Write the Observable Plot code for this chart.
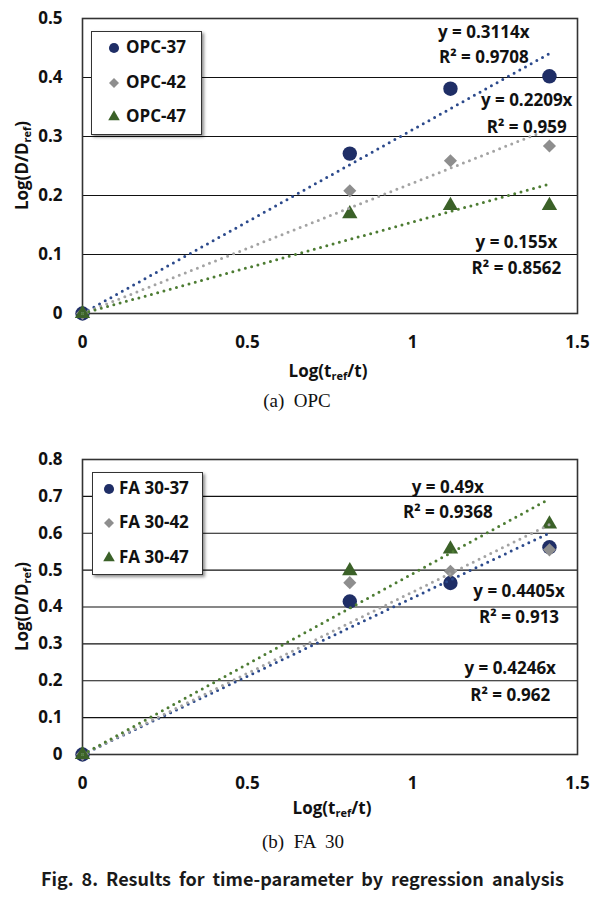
<!DOCTYPE html>
<html><head><meta charset="utf-8">
<script src="https://cdn.jsdelivr.net/npm/d3@7"></script>
<script src="https://cdn.jsdelivr.net/npm/@observablehq/plot@0.6"></script>
<style>
body{margin:0;background:#fff;}
#wrap{position:relative;width:609px;height:897px;font-family:"Open Sans",sans-serif;color:#111;overflow:hidden;}
.abs{position:absolute;}
.title{font-weight:bold;font-size:17px;white-space:nowrap;text-align:center;}
.title sub{font-size:11px;vertical-align:-3px;line-height:0;}
.legend{background:#fff;border:1px solid #333;box-shadow:2px 2px 3px rgba(0,0,0,0.45);}
.legrow{position:absolute;font-weight:bold;font-size:17px;white-space:nowrap;line-height:20px;}
.cap{font-family:"Liberation Serif","Times New Roman",serif;font-size:19px;white-space:pre;text-align:center;}
.fig{font-family:"Noto Sans CJK KR",sans-serif;font-weight:bold;font-size:18px;text-align:justify;text-align-last:justify;color:#1a1a1a;}
</style></head><body><div id="wrap"></div>
<script>
// ---- data ----
const xValues = [0, 0.81, 1.115, 1.415];
const xTicks = [0, 0.5, 1, 1.5];

const opcSeries = ["OPC-37", "OPC-42", "OPC-47"];
const opc37 = [0, 0.271, 0.381, 0.402];
const opc42 = [0, 0.208, 0.259, 0.284];
const opc47 = [0, 0.169, 0.183, 0.183];
const opcSlopes = [0.3114, 0.2209, 0.155];
const opcR2 = [0.9708, 0.959, 0.8562];
const opcYTicks = [0, 0.1, 0.2, 0.3, 0.4, 0.5];

const faSeries = ["FA 30-37", "FA 30-42", "FA 30-47"];
const fa37 = [0, 0.415, 0.465, 0.562];
const fa42 = [0, 0.466, 0.497, 0.555];
const fa47 = [0, 0.498, 0.557, 0.625];
const faSlopes = [0.4246, 0.4405, 0.49];
const faR2 = [0.962, 0.913, 0.9368];
const faYTicks = [0, 0.1, 0.2, 0.3, 0.4, 0.5, 0.6, 0.7, 0.8];

// ---- annotation anchors (data units: x, y of equation, y of R²) ----
const opcLabelPos = [[1.216, 0.477, 0.434], [1.346, 0.361, 0.316], [1.315, 0.120, 0.076]];
const faLabelPos = [[1.296, 0.234, 0.161], [1.323, 0.442, 0.372], [1.107, 0.725, 0.657]];

// ---- styles ----
const markerColors = ["#1f2e66", "#8e8e8e", "#3b6128"];
const lineColors = ["#2c4a8c", "#a3a3a3", "#4d7c33"];
const symbols = ["circle", "diamond2", "triangle"];
const markerR = [7.2, 5.9, 5.7];

function chart({series, ys, slopes, r2, labelPos, yTicks}) {
  const xEnd = d3.max(xValues);
  const marks = [
    Plot.ruleY(yTicks, {stroke: "#111", strokeWidth: 1.2}),
    Plot.frame({stroke: "#333", strokeWidth: 1.6}),
    Plot.axisY({ticks: yTicks, tickSize: 0, tickPadding: 20, label: null, tickFormat: d => String(d)}),
    Plot.axisX({ticks: xTicks, tickSize: 0, tickPadding: 22, label: null, tickFormat: d => String(d)})
  ];
  series.forEach((s, i) => {
    const pts = xValues.map((x, j) => ({x, y: ys[i][j]}));
    marks.push(Plot.dot(pts, {x: "x", y: "y", symbol: symbols[i], fill: markerColors[i], r: markerR[i]}));
  });
  series.forEach((s, i) => {
    const trend = [0, xEnd].map(x => ({x, y: slopes[i] * x}));
    marks.push(Plot.line(trend, {x: "x", y: "y", stroke: lineColors[i], strokeWidth: 3,
      strokeDasharray: "0 6.5", strokeLinecap: "round"}));
  });
  const labels = series.flatMap((s, i) => [
    {x: labelPos[i][0], y: labelPos[i][1], text: `y = ${slopes[i]}x`},
    {x: labelPos[i][0], y: labelPos[i][2], text: `R² = ${r2[i]}`}
  ]);
  marks.push(Plot.text(labels, {x: "x", y: "y", text: "text", fontSize: 17, fontWeight: "bold", fill: "#111"}));
  return Plot.plot({
    width: 609, height: 360,
    marginLeft: 82, marginRight: 32, marginTop: 18, marginBottom: 47,
    x: {domain: [0, 1.5]},
    y: {domain: [0, d3.max(yTicks)]},
    style: {fontFamily: "'Open Sans', sans-serif", fontSize: "17px", fontWeight: "bold", color: "#111", background: "transparent", overflow: "visible"},
    marks
  });
}

function legend(series, left, top, w, h, rowsY, symX, textX, symSize) {
  const box = document.createElement("div");
  box.className = "abs legend";
  Object.assign(box.style, {left: left + "px", top: top + "px", width: w + "px", height: h + "px"});
  series.forEach((s, i) => {
    const svg = d3.create("svg").attr("width", 16).attr("height", 16)
      .style("position", "absolute").style("left", (symX - 8) + "px").style("top", (rowsY[i] - 8) + "px");
    const sym = [d3.symbolCircle, d3.symbolDiamond2, d3.symbolTriangle][i];
    svg.append("path").attr("transform", "translate(8,8)")
      .attr("d", d3.symbol(sym, symSize[i])()).attr("fill", markerColors[i]);
    box.appendChild(svg.node());
    const t = document.createElement("div");
    t.className = "legrow";
    t.textContent = s;
    Object.assign(t.style, {left: textX + "px", top: (rowsY[i] - 11) + "px"});
    box.appendChild(t);
  });
  return box;
}

function place(el, left, top) {
  el.style.position = "absolute";
  el.style.left = left + "px";
  el.style.top = top + "px";
  return el;
}

function html(cls, content, style) {
  const d = document.createElement("div");
  d.className = "abs " + cls;
  d.innerHTML = content;
  Object.assign(d.style, style);
  return d;
}

const wrap = document.getElementById("wrap");

// top chart
wrap.appendChild(place(chart({series: opcSeries, ys: [opc37, opc42, opc47], slopes: opcSlopes, r2: opcR2, labelPos: opcLabelPos, yTicks: opcYTicks}), 0, 0));
wrap.appendChild(legend(opcSeries, 91, 31, 109, 102, [16, 50.5, 84.5], 22, 34, [80, 64, 58]));
wrap.appendChild(html("title", "Log(D/D<sub>ref</sub>)", {left: "-79px", top: "154px", width: "200px", transform: "rotate(-90deg)"}));
wrap.appendChild(html("title", "Log(t<sub>ref</sub>/t)", {left: "228px", top: "359px", width: "200px"}));
wrap.appendChild(html("cap", "(a)  OPC", {left: "197px", top: "390px", width: "200px"}));

// bottom chart
wrap.appendChild(place(chart({series: faSeries, ys: [fa37, fa42, fa47], slopes: faSlopes, r2: faR2, labelPos: faLabelPos, yTicks: faYTicks}), 0, 441));
wrap.appendChild(legend(faSeries, 92, 472, 109, 101, [15.5, 50, 84.5], 16, 26, [80, 64, 58]));
wrap.appendChild(html("title", "Log(D/D<sub>ref</sub>)", {left: "-79px", top: "595px", width: "200px", transform: "rotate(-90deg)"}));
wrap.appendChild(html("title", "Log(t<sub>ref</sub>/t)", {left: "232px", top: "796px", width: "200px"}));
wrap.appendChild(html("cap", "(b)  FA  30", {left: "203px", top: "831px", width: "200px"}));

wrap.appendChild(html("fig", "Fig. 8. Results for time-parameter by regression analysis", {left: "41px", top: "865px", width: "523px"}));
</script>
</body></html>
